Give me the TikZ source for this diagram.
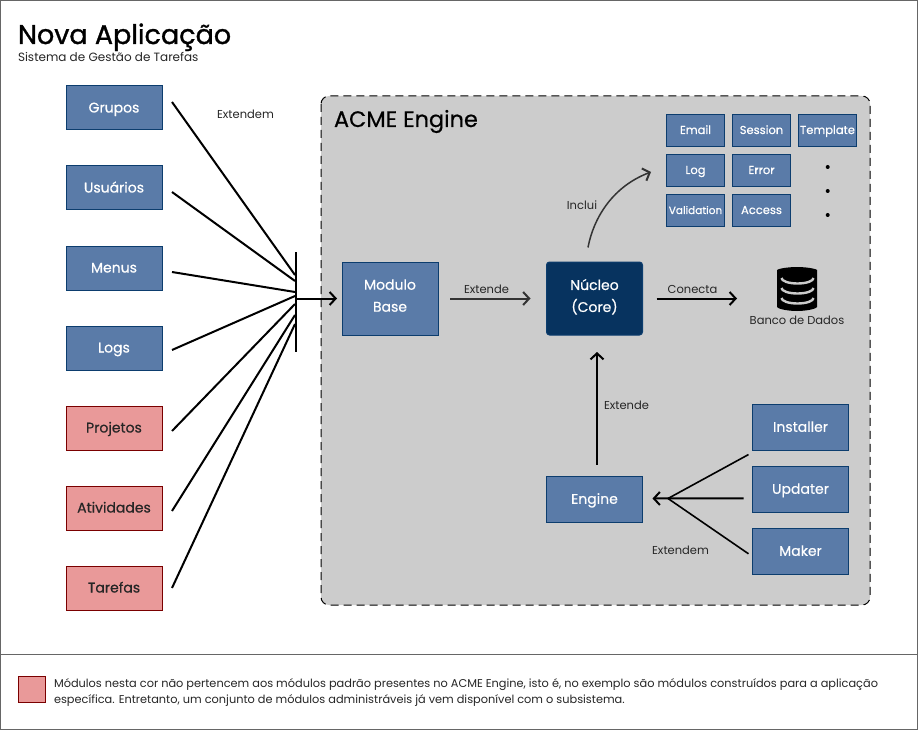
\documentclass[tikz,border=0pt]{standalone}
\usepackage{fontspec}
\setmainfont{Poppins}
\newfontfamily\titlefont[FakeBold=1.2]{Poppins}
\newfontfamily\boxfont[FakeBold=0.5]{Poppins}
\usetikzlibrary{arrows.meta}
\definecolor{boxblue}{HTML}{5A7BA8}
\definecolor{edgeblue}{HTML}{0C3D6E}
\definecolor{corenavy}{HTML}{07335F}
\definecolor{boxred}{HTML}{E99999}
\definecolor{edgered}{HTML}{7A0000}
\definecolor{panelgray}{HTML}{CCCCCC}
\definecolor{framegray}{HTML}{666666}
\tikzset{
  every node/.style={inner sep=0pt,outer sep=0pt,font=\fontsize{14}{16}\selectfont},
  module/.style={draw=edgeblue,fill=boxblue,text=white,line width=1pt,minimum width=96pt,minimum height=45.5pt,align=center,text height=11pt,text depth=2pt,font=\boxfont\fontsize{14}{16}\selectfont},
  tallmodule/.style={module,minimum height=73pt,text height=,text depth=6pt},
  extmodule/.style={module,draw=edgered,fill=boxred,text=black!85},
  sidemodule/.style={module,minimum height=44pt},
  submodule/.style={module,minimum width=58pt,minimum height=32pt,text height=9pt,text depth=2pt,font=\boxfont\fontsize{11.5}{13}\selectfont},
  caption/.style={font=\fontsize{11.5}{13}\selectfont,text=black!85},
  link/.style={line width=2pt},
  arrowlink/.style={link,-{Straight Barb[length=6pt,width=13pt,line width=2pt]}},
}
\begin{document}
\begin{tikzpicture}[x=1pt,y=1pt]
\useasboundingbox (0,0) rectangle (918,-730);
\draw [framegray,fill=white] (0.5,-0.5) rectangle (917.5,-729.5);
\draw [framegray] (0.5,-654.5) -- (917.5,-654.5);
\draw [black,fill=panelgray,dashed,dash pattern=on 8pt off 5pt,line width=1pt,rounded corners=8pt] (321,-96) rectangle (870,-605);
% titles
\node [anchor=base west,font=\titlefont\fontsize{27}{30}\selectfont] (title) at (18,-44) {Nova Aplicação};
\node [anchor=base west,font=\fontsize{12}{14}\selectfont,text=black!85] (subtitle) at (18,-62) {Sistema de Gestão de Tarefas};
\node [anchor=base west,font=\boxfont\fontsize{22.4}{24}\selectfont] (panelname) at (334,-127) {ACME Engine};
% modules outside the engine
\node [module,sidemodule] (grupos) at (114,-108) {Grupos};
\node [module,sidemodule] (usuarios) at (114,-188) {Usuários};
\node [module,sidemodule] (menus) at (114,-268) {Menus};
\node [module,sidemodule] (logs) at (114,-348) {Logs};
\node [extmodule,sidemodule,draw=edgered,fill=boxred,text=black!85] (projetos) at (114,-428) {Projetos};
\node [extmodule,sidemodule,draw=edgered,fill=boxred,text=black!85] (atividades) at (114,-508) {Atividades};
\node [extmodule,sidemodule,draw=edgered,fill=boxred,text=black!85] (tarefas) at (114,-588) {Tarefas};
% engine modules
\node [tallmodule] (base) at (390,-298.5) {Modulo\\[6pt]Base};
\node [tallmodule,fill=corenavy,rounded corners=3pt] (core) at (594.5,-298.5) {Núcleo\\[6pt](Core)};
\node [module] (engine) at (594.5,-499.3) {Engine};
\node [module] (installer) at (800.5,-427.3) {Installer};
\node [module] (updater) at (800.5,-489.3) {Updater};
\node [module] (maker) at (800.5,-551.3) {Maker};
\node [submodule] (email) at (695.5,-130.5) {Email};
\node [submodule] (session) at (761.5,-130.5) {Session};
\node [submodule] (template) at (827.5,-130.5) {Template};
\node [submodule] (log) at (695.5,-170.5) {Log};
\node [submodule] (error) at (761.5,-170.5) {Error};
\node [submodule,font=\boxfont\fontsize{10.5}{13}\selectfont] (validation) at (695.5,-210.5) {Validation};
\node [submodule] (access) at (761.5,-210.5) {Access};
\foreach \y in {-167,-191,-215}
  \fill (827.7,\y) circle (2);
% database icon
\node [minimum width=40pt,minimum height=44pt] (banco) at (797,-289) {};
\fill [black,rounded corners=2pt] (777,-272) -- (777,-305) arc (180:360:20 and 6) -- (817,-272) arc (0:180:20 and 5) -- cycle;
\foreach \y in {-278,-288,-298}
  \draw [panelgray,line width=2.4pt] (781.5,\y) arc (180:360:16 and 5.5);
\node [caption] (bancolabel) at (797,-320) {Banco de Dados};
% junction bar
\node [fill=black,minimum width=2pt,minimum height=100pt] (bar) at (296,-302) {};
\coordinate (gruposout) at (172,-102);
\coordinate (usuariosout) at (172,-192);
\coordinate (menusout) at (172,-272);
\coordinate (logsout) at (172,-350);
\coordinate (projetosout) at (172,-431);
\coordinate (atividadesout) at (172,-511);
\coordinate (tarefasout) at (172,-588);
\draw [link] (gruposout) -- (295,-275);
\draw [link] (usuariosout) -- (295,-281);
\draw [link] (menusout) -- (295,-292);
\draw [link] (logsout) -- (295,-296);
\draw [link] (projetosout) -- (295,-304);
\draw [link] (atividadesout) -- (295,-315);
\draw [link] (tarefasout) -- (295,-324);
\draw [arrowlink] (bar.east |- base.west) -- ([xshift=-5pt]base.west);
\draw [arrowlink,black!80] ([xshift=12pt]base.east) -- ([xshift=-16pt]core.west);
\coordinate (bancoin) at (737,-298.5);
\draw [arrowlink] ([xshift=14pt]core.east) -- (bancoin);
\coordinate (login) at (651,-172);
\draw [arrowlink,black!80,line width=1.5pt] ([xshift=-6.5pt,yshift=14.5pt]core.north) .. controls (594,-216) and (614,-186) .. (login);
\draw [arrowlink] ([xshift=2.5pt,yshift=12pt]engine.north) -- ([xshift=2.5pt,yshift=-17pt]core.south);
\coordinate (enginejoin) at (668,-498.5);
\draw [arrowlink] ([xshift=-9pt,yshift=-9pt]updater.west) -- ([xshift=10pt,yshift=0.8pt]engine.east);
\draw [link,line width=1.6pt] ([xshift=-4pt,yshift=-4.5pt]installer.south west) -- (enginejoin);
\draw [link,line width=1.6pt] ([xshift=-4pt,yshift=-2.5pt]maker.west) -- (enginejoin);
% labels
\node [caption] at (245.5,-114.5) (extlabel) {Extendem};
\node [caption] at (486.5,-289.5) (baselabel) {Extende};
\node [caption] at (692.5,-289.5) (conectalabel) {Conecta};
\node [caption] at (582,-205) (incluilabel) {Inclui};
\node [caption] at (626.5,-405) (enginelabel) {Extende};
\node [caption] at (680.5,-550) (makerlabel) {Extendem};
% legend
\node [draw=edgered,fill=boxred,line width=1pt,minimum width=27pt,minimum height=26pt] (swatch) at (32,-689) {};
\node [anchor=north west,align=left,font=\fontsize{11.33}{16}\selectfont,text=black!85] (legend) at (54,-679) {Módulos nesta cor não pertencem aos módulos padrão presentes no ACME Engine, isto é, no exemplo são módulos construídos para a aplicação\\específica. Entretanto, um conjunto de módulos administráveis já vem disponível com o subsistema.};
\end{tikzpicture}
\end{document}
